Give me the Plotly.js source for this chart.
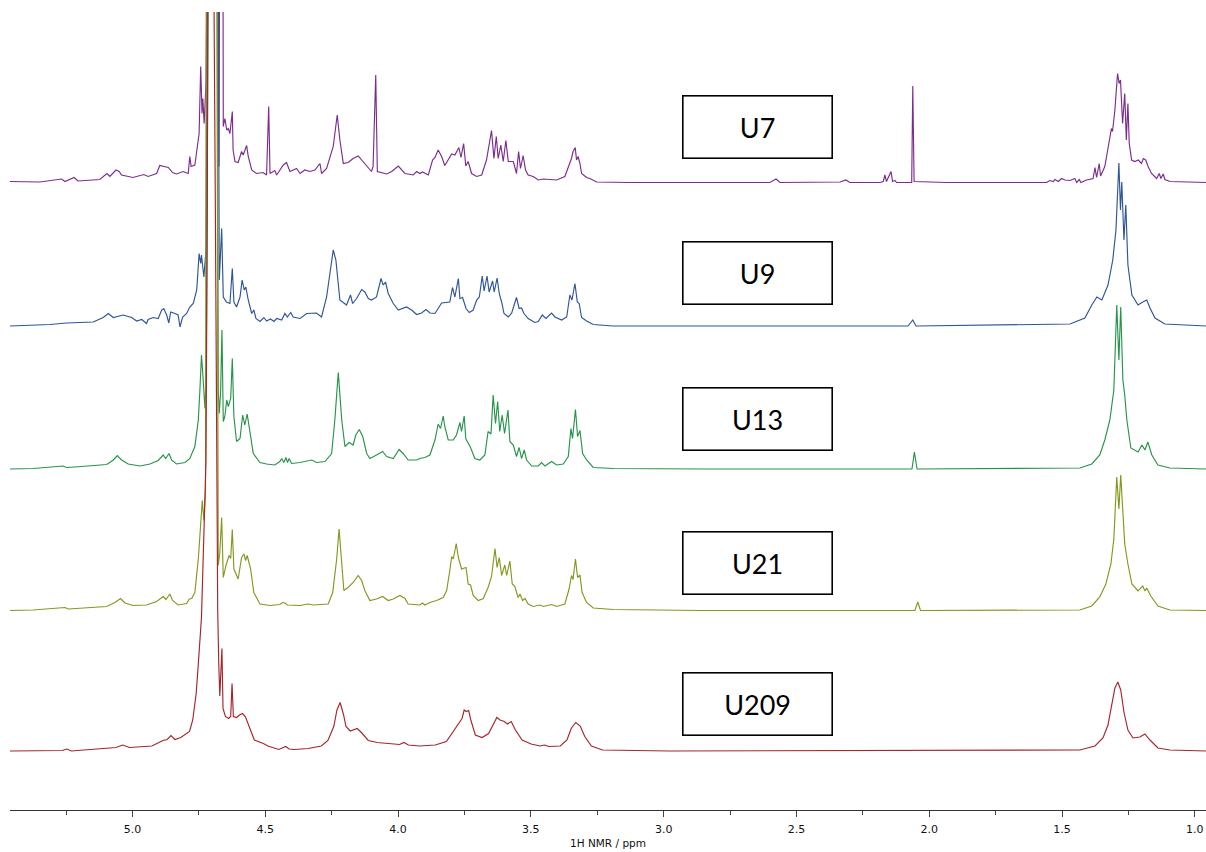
<!DOCTYPE html>
<html><head><meta charset="utf-8">
<script src="https://cdn.plot.ly/plotly-3.0.1.min.js"></script>
<style>html,body{margin:0;padding:0;background:#fff;} #chart{width:1206px;height:852px;}</style>
</head><body><div id="chart"></div>
<script>
// ---- Data: chemical shift (ppm) and intensity (a.u. above each baseline) ----
const sampleNames = ['U7', 'U9', 'U13', 'U21', 'U209'];

const ppm_U7 = [
5.461,5.348,5.267,5.254,5.220,5.205,5.123,5.096,5.085,5.062,
5.050,5.041,4.998,4.957,4.941,4.922,4.909,4.897,4.884,4.865,
4.849,4.834,4.809,4.790,4.784,4.779,4.765,4.752,4.749,4.743,
4.738,4.735,4.730,4.723,4.718,4.701,4.691,4.674,4.664,4.658,
4.652,4.645,4.639,4.633,4.624,4.621,4.614,4.602,4.589,4.583,
4.570,4.564,4.551,4.533,4.508,4.495,4.487,4.482,4.464,4.457,
4.432,4.420,4.414,4.407,4.382,4.369,4.351,4.332,4.313,4.294,
4.288,4.269,4.244,4.229,4.219,4.206,4.188,4.169,4.150,4.137,
4.118,4.100,4.094,4.084,4.078,4.043,4.024,3.999,3.974,3.943,
3.930,3.918,3.908,3.886,3.870,3.861,3.849,3.836,3.824,3.811,
3.798,3.786,3.771,3.763,3.753,3.745,3.736,3.723,3.704,3.685,
3.667,3.648,3.639,3.630,3.623,3.613,3.604,3.594,3.585,3.566,
3.554,3.546,3.539,3.529,3.520,3.510,3.491,3.472,3.453,3.428,
3.403,3.372,3.357,3.347,3.341,3.333,3.328,3.322,3.315,3.309,
3.290,3.278,3.252,3.127,2.600,2.577,2.562,2.336,2.314,2.299,
2.186,2.173,2.167,2.161,2.144,2.138,2.129,2.123,2.066,2.062,
2.057,1.935,1.558,1.546,1.533,1.527,1.514,1.502,1.489,1.470,
1.452,1.445,1.435,1.429,1.408,1.383,1.376,1.370,1.360,1.355,
1.339,1.326,1.320,1.314,1.310,1.301,1.291,1.285,1.280,1.272,
1.264,1.258,1.252,1.247,1.238,1.226,1.213,1.201,1.194,1.185,
1.176,1.163,1.144,1.134,1.128,1.119,1.113,1.094,0.958];
const int_U7 = [
1,0.5,3.5,1,5,1.5,3,9,6,12.5,
11,7.5,5,8,6,7.5,9,17,16,15,
10,8.5,11,9,26,16,17.5,47.5,49,116,
69,84,59,99.5,1000,1000,1000,16,1000,56,
64,52.5,54,49,71,32.5,21,20,31,27.5,
37,26,12.5,9,10,7.5,76,9,12,7.5,
17.5,20,16,11,14,9,12.5,11,12.5,19,
9,14,36,67.5,42.5,19,20,24,26.5,22.5,
16.5,11,16,107.5,11,8.5,11,16.5,9,7.5,
11,9,10.5,7.5,22.5,25,32.5,26,17,22.5,
28.5,27.5,35,25,39,16.5,21,9,6,7.5,
22.5,52,24,46,24,37.5,21,42,21,21,
9,31,14,27,12.5,7.5,6,2.5,3.5,3,
2.5,6,17.5,24,31,35,22.5,26,19,9,
5,4,0.5,0,0,3.5,0,0.5,2.5,0,
0,1,7.5,1,11,1,2,0,0,96.5,
1,0,0,2,1,3,1,4,2.5,2,
4,0,3,0,2.5,4,15,5,19,6.5,
16,36,42.5,54,51,72.5,109,99,102.5,59,
89,42.5,79,39,22.5,21,22.5,19,24,22.5,
16,9,4,9,4,8.5,3,1,0];

const ppm_U9 = [
5.461,5.311,5.248,5.148,5.110,5.091,5.072,5.035,5.003,4.984,
4.965,4.947,4.941,4.922,4.903,4.890,4.882,4.871,4.863,4.856,
4.840,4.828,4.821,4.811,4.796,4.784,4.771,4.758,4.749,4.743,
4.740,4.731,4.723,4.718,4.705,4.686,4.673,4.664,4.658,4.646,
4.633,4.624,4.618,4.608,4.595,4.587,4.579,4.573,4.564,4.551,
4.543,4.535,4.520,4.505,4.495,4.480,4.467,4.457,4.438,4.426,
4.417,4.404,4.395,4.369,4.344,4.307,4.288,4.269,4.244,4.234,
4.219,4.194,4.179,4.171,4.156,4.137,4.125,4.112,4.100,4.081,
4.064,4.056,4.047,4.037,4.018,3.999,3.968,3.949,3.930,3.911,
3.895,3.880,3.861,3.836,3.817,3.805,3.795,3.786,3.773,3.767,
3.757,3.744,3.732,3.717,3.704,3.694,3.683,3.676,3.665,3.657,
3.644,3.638,3.627,3.619,3.610,3.601,3.585,3.572,3.564,3.554,
3.544,3.535,3.526,3.510,3.485,3.472,3.457,3.443,3.422,3.409,
3.384,3.365,3.353,3.345,3.334,3.325,3.318,3.309,3.290,3.265,
3.190,2.863,2.080,2.062,2.050,1.470,1.414,1.388,1.369,1.350,
1.327,1.309,1.297,1.286,1.280,1.275,1.267,1.260,1.252,1.237,
1.214,1.196,1.181,1.169,1.150,1.113,0.958];
const int_U9 = [
0,1.5,3,4,8.5,12.5,8.5,11,8.5,5,
6.5,2.5,6.5,8.5,7.5,16,17.5,11,3,14,
12.5,11,-1,9,12.5,19,22.5,36,72.5,62.5,
71,49,76,1000,1000,1000,46,97.5,29,24,
22.5,57.5,24,19,29,46,36,39,26,12.5,
16,7.5,4.5,8.5,5,7,4.5,7.5,6,12.5,
9,13.5,9,7.5,12.5,13,9,29,76,66,
26,21,31,22.5,27.5,36.5,34,27.5,26,29,
47.5,41,44,32.5,22.5,16,19,16,11.5,13,
16.5,13,12.5,23,24,24,38.5,29,47.5,27.5,
28.5,17.5,13.5,16,26,29,50,35,50,34,
45,34,48,32.5,24,12.5,9,13,20,28.5,
17.5,18,12.5,7.5,3.5,4.5,11,7.5,13,9,
6,9,31,26,42.5,24,22.5,8.5,5,1.5,
0,0,0,6,0,2,8,21,29,26,
41,66,96,163,116,144,86,121,61,31,
21,24,26,18,8,2,0];

const ppm_U13 = [
5.461,5.374,5.261,5.248,5.217,5.097,5.072,5.057,5.041,5.016,
4.972,4.934,4.903,4.884,4.875,4.862,4.853,4.834,4.802,4.784,
4.765,4.752,4.746,4.740,4.734,4.727,4.722,4.719,4.705,4.686,
4.677,4.673,4.668,4.663,4.658,4.652,4.645,4.639,4.630,4.624,
4.618,4.608,4.595,4.585,4.577,4.568,4.558,4.545,4.520,4.495,
4.464,4.445,4.438,4.430,4.422,4.416,4.410,4.401,4.369,4.325,
4.307,4.275,4.250,4.238,4.225,4.212,4.200,4.184,4.169,4.159,
4.146,4.133,4.118,4.106,4.081,4.058,4.043,4.018,3.996,3.981,
3.962,3.930,3.918,3.899,3.880,3.861,3.849,3.840,3.830,3.824,
3.811,3.792,3.780,3.767,3.761,3.751,3.745,3.736,3.727,3.711,
3.692,3.673,3.661,3.650,3.642,3.633,3.625,3.617,3.608,3.599,
3.586,3.579,3.566,3.554,3.544,3.535,3.525,3.516,3.497,3.472,
3.460,3.447,3.422,3.403,3.378,3.359,3.349,3.343,3.332,3.324,
3.315,3.305,3.290,3.265,3.190,2.863,2.065,2.056,2.046,1.433,
1.388,1.358,1.339,1.320,1.305,1.294,1.286,1.279,1.271,1.264,
1.256,1.241,1.214,1.199,1.188,1.177,1.162,1.139,1.094,0.958];
const int_U13 = [
0,0.5,3,1.5,2,4.5,9,13.5,9,5,
3,5,8.5,14,10.5,15.5,9,5,6.5,10.5,
22.5,49,79,114,90.5,60.5,99,1000,1000,1000,
79,55.5,77.5,139,47.5,52.5,69,62.5,70.5,110.5,
52.5,27.5,30.5,54,44,55,39,15.5,6.5,5,
4,7.5,10.5,6.5,11.5,6.5,10.5,5.5,6.5,9,
6.5,7.5,15.5,49,96.5,49,22.5,26.5,24,34,
39.5,32.5,15.5,10.5,14,17.5,12.5,10.5,19.5,15.5,
9,9,10.5,11.5,14,29,45,40.5,53,42.5,
29,29,34,46.5,37.5,53,30.5,26.5,21.5,10.5,
9,14,37.5,35,74,45.5,67.5,37.5,54,35.5,
59,27.5,24,12.5,21.5,10.5,19,9,3,3,
6.5,3,7.5,4,5,12.5,40.5,30.5,59.5,32.5,
38.5,15.5,9,1.5,0.5,0,0,17,0,1,
5,14,29,49,79,164,109,162,89,74,
49,21,17,24,19,27,14,4,1,0];

const ppm_U21 = [
5.461,5.374,5.254,5.242,5.097,5.066,5.045,5.028,4.997,4.947,
4.909,4.884,4.874,4.859,4.849,4.828,4.796,4.786,4.777,4.765,
4.752,4.746,4.737,4.731,4.725,4.720,4.705,4.685,4.677,4.671,
4.664,4.658,4.648,4.636,4.630,4.624,4.618,4.602,4.589,4.580,
4.574,4.568,4.555,4.543,4.520,4.482,4.445,4.435,4.426,4.417,
4.369,4.338,4.319,4.263,4.246,4.231,4.222,4.212,4.204,4.188,
4.169,4.150,4.137,4.125,4.106,4.081,4.058,4.037,4.018,3.993,
3.974,3.962,3.918,3.908,3.899,3.880,3.855,3.830,3.817,3.805,
3.798,3.792,3.781,3.773,3.761,3.744,3.736,3.727,3.717,3.698,
3.679,3.661,3.648,3.635,3.627,3.619,3.610,3.598,3.591,3.579,
3.570,3.560,3.548,3.541,3.531,3.522,3.510,3.491,3.466,3.453,
3.422,3.403,3.372,3.356,3.347,3.341,3.332,3.324,3.315,3.307,
3.290,3.265,3.190,2.863,2.054,2.043,2.033,1.433,1.388,1.358,
1.335,1.316,1.305,1.294,1.286,1.279,1.271,1.264,1.252,1.237,
1.214,1.196,1.188,1.181,1.166,1.139,1.094,0.958];
const int_U21 = [
0,0.5,3,1.5,4,8,12,7.5,5,5.5,
9,14,11,16.5,10,5.5,7,11.5,12,18,
51.5,80,110,90,118,1000,1000,1000,45,58,
93,33,45,55,52,81,41.5,31.5,53,56.5,
50,55,41.5,18,6.5,5,6,8,7.5,5.5,
5,6.5,5.5,6.5,18,51.5,81.5,48,20,23,
28,35,30,20,10,11.5,14,10,11.5,15,
12,6.5,5.5,7.5,5.5,8,10,13,20,40,
54,51.5,67,53,41.5,43,26.5,25.5,15,10,
12,23,34,62,43,53,35,45.5,35,49.5,
26.5,24,13,16.5,10,12,6.5,4,5.5,4,
6,4,6.5,21.5,35,31,51.5,33,35.5,18,
8,2.5,1,0,0,8.5,0,0.5,4.5,13.5,
26.5,46.5,71.5,133.5,101.5,135.5,91.5,66.5,46.5,26.5,
19.5,24.5,19.5,22.5,14.5,4.5,0.5,0];

const ppm_U209 = [
5.461,5.264,5.247,5.230,5.062,5.037,5.011,4.927,4.885,4.869,
4.855,4.840,4.818,4.793,4.785,4.773,4.760,4.751,4.740,4.723,
4.718,4.714,4.699,4.688,4.684,4.679,4.675,4.671,4.663,4.659,
4.650,4.638,4.630,4.625,4.620,4.608,4.597,4.586,4.575,4.561,
4.541,4.507,4.490,4.449,4.423,4.410,4.390,4.339,4.314,4.289,
4.264,4.242,4.230,4.218,4.205,4.196,4.180,4.154,4.138,4.112,
4.079,4.020,3.994,3.978,3.961,3.919,3.860,3.818,3.784,3.759,
3.751,3.743,3.734,3.726,3.709,3.684,3.659,3.642,3.628,3.616,
3.600,3.588,3.574,3.558,3.533,3.499,3.465,3.449,3.432,3.389,
3.364,3.348,3.331,3.314,3.297,3.272,3.230,2.978,1.433,1.376,
1.346,1.327,1.312,1.301,1.290,1.279,1.267,1.252,1.233,1.207,
1.188,1.169,1.139,1.094,0.958];
const int_U209 = [
0,0.5,2,0,3.5,6,3.5,5,10.5,11.5,
15.5,11.5,13.5,17.5,19.5,31,57.5,91,134,291,
551,1000,1000,551,291,141,87.5,55,102.5,42.5,
34.5,32.5,34.5,67.5,34.5,33.5,36,37.5,34.5,24.5,
11,7.5,5,1.5,4.5,2,1.5,2.5,3.5,5,
10.5,24.5,41,48.5,36,24.5,20,22.5,18.5,10.5,
8.5,7.5,6.5,8.5,6,5,6,9.5,22.5,32.5,
41,39.5,40.5,31,16,13.5,17.5,26,33.5,31,
29.5,27,29.5,21,11,7,5,6,4.5,5,
11,22.5,28.5,25,14.5,5,1,0,1,5,
13,26,46,63,69,61,39,21,13,14,
17,11,3,1,0];

// ---- Styling / layout constants ----
const seriesPpm = [ppm_U7, ppm_U9, ppm_U13, ppm_U21, ppm_U209];
const seriesInt = [int_U7, int_U9, int_U13, int_U21, int_U209];
const lineColors = ['#7B2D8E', '#2F5597', '#27944C', '#86971F', '#A3262A'];
const stackOffsets = [627.5, 484, 341, 199.5, 59];   // vertical stacking of the spectra
const labelY = [683, 537, 391, 247, 106];

const traces = sampleNames.map((name, i) => {
  if (seriesPpm[i].length !== seriesInt[i].length) console.warn('length mismatch', name);
  return {
    type: 'scatter', mode: 'lines', name: name,
    x: seriesPpm[i],
    y: seriesInt[i].map(v => v + stackOffsets[i]),
    line: {color: lineColors[i], width: 1.15},
    hoverinfo: 'skip', cliponaxis: true
  };
});

const annotations = sampleNames.map((name, i) => ({
  xref: 'x', yref: 'y', x: 2.647, y: labelY[i], showarrow: false,
  text: name, width: 148, height: 61, borderpad: 0,
  bordercolor: '#000', borderwidth: 1.6, bgcolor: '#fff',
  font: {family: 'Lato, "Open Sans", sans-serif', size: 27, color: '#000'},
  xanchor: 'center', yanchor: 'middle', valign: 'middle'
}));

const layout = {
  width: 1206, height: 852,
  margin: {l: 10, r: 0, t: 12, b: 42},
  paper_bgcolor: '#fff', plot_bgcolor: '#fff',
  showlegend: false,
  xaxis: {
    range: [5.461, 0.958], tick0: 0, dtick: 0.5, tickformat: '.1f',
    ticks: 'outside', ticklen: 6, tickwidth: 1, tickcolor: '#444',
    ticklabelstandoff: 3,
    showline: true, linecolor: '#333', linewidth: 1,
    showgrid: false, zeroline: false,
    minor: {dtick: 0.25, ticks: 'outside', ticklen: 4, tickcolor: '#444', showgrid: false},
    tickfont: {family: '"DejaVu Sans", sans-serif', size: 11, color: '#111'},
    title: {text: '1H NMR / ppm', font: {family: '"DejaVu Sans", sans-serif', size: 10.5, color: '#111'}, standoff: 4},
    fixedrange: true
  },
  yaxis: {range: [0, 798], visible: false, showgrid: false, zeroline: false, fixedrange: true},
  annotations: annotations
};

Plotly.newPlot('chart', traces, layout, {staticPlot: true, displayModeBar: false});
</script>
</body></html>
